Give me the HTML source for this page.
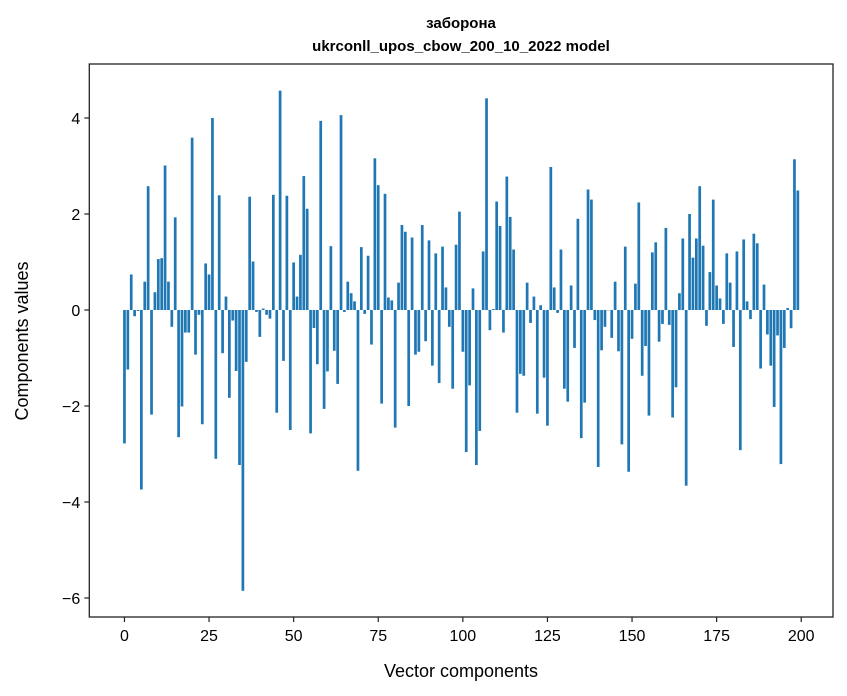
<!DOCTYPE html>
<html><head><meta charset="utf-8">
<style>
html,body{margin:0;padding:0;background:#fff;}
svg{display:block;font-family:"Liberation Sans","DejaVu Sans",sans-serif;}
</style></head>
<body>
<svg id="chart" width="847" height="696" viewBox="0 0 847 696" xmlns="http://www.w3.org/2000/svg">
<rect width="847" height="696" fill="#fff"/>
<text x="461" y="28" text-anchor="middle" font-size="15" font-weight="bold">заборона</text>
<text x="461" y="51" text-anchor="middle" font-size="15" font-weight="bold">ukrconll_upos_cbow_200_10_2022 model</text>
<g id="bars"></g>
<g id="axes"></g>
<text x="461" y="677" text-anchor="middle" font-size="18">Vector components</text>
<text transform="translate(28,341) rotate(-90)" text-anchor="middle" font-size="18">Components values</text>
</svg>
<script>
const values = [
-2.78,-1.24,0.74,-0.13,-0.02,-3.74,0.59,2.58,-2.18,0.37,
1.06,1.08,3.01,0.59,-0.35,1.93,-2.65,-2.01,-0.47,-0.47,
3.59,-0.93,-0.1,-2.38,0.97,0.74,4.0,-3.10,2.39,-0.90,
0.28,-1.83,-0.22,-1.27,-3.23,-5.85,-1.08,2.36,1.01,-0.04,
-0.56,0.03,-0.1,-0.18,2.40,-2.14,4.57,-1.06,2.38,-2.5,
0.99,0.28,1.15,2.79,2.11,-2.57,-0.375,-1.13,3.94,-2.06,
-1.28,1.33,-0.85,-1.54,4.06,-0.04,0.59,0.35,0.18,-3.35,
1.31,-0.08,1.13,-0.72,3.16,2.6,-1.95,2.42,0.26,0.2,
-2.45,0.57,1.77,1.63,-2.0,1.51,-0.93,-0.87,1.77,-0.65,
1.45,-1.16,1.18,-1.52,1.32,0.47,-0.35,-1.64,1.36,2.05,
-0.87,-2.96,-1.57,0.45,-3.23,-2.52,1.22,4.41,-0.42,0.02,
2.26,1.75,-0.47,2.78,1.94,1.26,-2.14,-1.33,-1.37,0.57,
-0.27,0.28,-2.16,0.1,-1.41,-2.41,2.98,0.47,-0.06,1.26,
-1.64,-1.91,0.51,-0.79,1.9,-2.67,-1.93,2.51,2.3,-0.21,
-3.27,-0.84,-0.35,0.0,-0.58,0.59,-0.86,-2.8,1.32,-3.37,
-0.6,0.55,2.24,-1.37,-0.75,-2.2,1.2,1.41,-0.66,-0.29,
1.71,-0.31,-2.24,-1.61,0.35,1.49,-3.66,2.0,1.09,1.49,
2.58,1.34,-0.33,0.79,2.3,0.51,0.24,-0.29,1.18,0.57,
-0.77,1.22,-2.92,1.47,0.18,-0.19,1.59,1.39,-1.22,0.53,
-0.51,-1.16,-2.02,-0.53,-3.21,-0.79,0.04,-0.38,3.14,2.49
];
const yTicks = [-6,-4,-2,0,2,4];
const xTicks = [0,25,50,75,100,125,150,175,200];
const NS="http://www.w3.org/2000/svg";
const L=89.3,R=833,T=64,B=617;
const xMin=-10.39,xMax=209.39,yMin=-6.396,yMax=5.125;
function xs(v){return L+(v-xMin)/(xMax-xMin)*(R-L);}
function ys(v){return B-(v-yMin)/(yMax-yMin)*(B-T);}
function mk(tag,attrs,parent){const e=document.createElementNS(NS,tag);for(const k in attrs)e.setAttribute(k,attrs[k]);parent.appendChild(e);return e;}
const bars=document.getElementById('bars');
values.forEach((v,i)=>{
  const x0=xs(i-0.4),x1=xs(i+0.4);
  const y0=ys(Math.max(v,0)),y1=ys(Math.min(v,0));
  const r=mk('rect',{x:x0,y:y0,width:x1-x0,height:Math.max(y1-y0,0.3),fill:'#1f77b4'},bars);
  
  
});
const ax=document.getElementById('axes');
const frame=mk('rect',{x:L,y:T,width:R-L,height:B-T,fill:'none',stroke:'#222','stroke-width':1.3},ax);


yTicks.forEach(t=>{
  const y=ys(t);
  const l=mk('line',{x1:L-5,x2:L,y1:y,y2:y,stroke:'#222','stroke-width':1.2},ax);
  
  
  const tx=mk('text',{x:L-9,y:y+6,'text-anchor':'end','font-size':16},ax);
  
  
  tx.textContent=t<0?'\u2212'+(-t):String(t);
});
xTicks.forEach(t=>{
  const x=xs(t);
  const l=mk('line',{x1:x,x2:x,y1:B,y2:B+5,stroke:'#222','stroke-width':1.2},ax);
  
  
  const tx=mk('text',{x:x,y:B+24,'text-anchor':'middle','font-size':16},ax);
  
  
  tx.textContent=String(t);
});
</script>
</body></html>
